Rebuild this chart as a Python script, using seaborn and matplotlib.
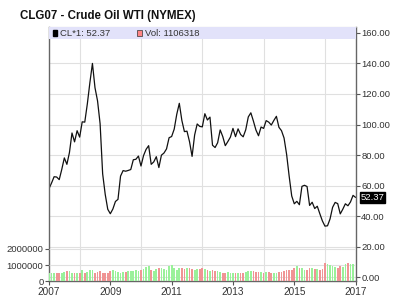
import matplotlib
matplotlib.use("Agg")
import matplotlib.pyplot as plt
import seaborn as sns
import numpy as np
import pandas as pd

# Monthly closes (Jan 2007 .. Dec 2016) plus latest value
price = [58.1, 61.8, 65.9, 65.7, 64.0, 70.7, 78.2, 74.0, 81.7, 94.5, 88.7, 96.0,
         91.8, 101.8, 101.6, 113.5, 127.4, 140.0, 124.1, 115.5, 100.6, 67.8, 54.4, 44.6,
         41.7, 44.8, 49.7, 51.1, 66.3, 69.9, 69.5, 70.0, 70.6, 77.0, 77.3, 79.4,
         72.9, 79.7, 83.8, 86.2, 74.0, 75.6, 79.0, 71.9, 80.0, 81.4, 84.1, 91.4,
         92.2, 97.0, 106.7, 113.9, 102.7, 95.4, 95.7, 88.8, 79.2, 93.2, 100.4, 98.8,
         98.5, 107.1, 103.0, 104.9, 86.5, 85.0, 88.1, 96.5, 92.2, 86.2, 88.9, 91.8,
         97.5, 92.1, 97.2, 93.5, 92.0, 96.6, 105.0, 107.7, 102.3, 96.4, 92.7, 98.4,
         97.5, 102.6, 101.6, 99.7, 102.7, 105.4, 98.2, 96.0, 91.2, 80.5, 66.2, 53.3,
         48.2, 49.8, 47.6, 59.6, 60.3, 59.5, 47.1, 49.2, 45.1, 46.6, 41.7, 37.0,
         33.6, 33.8, 38.3, 45.9, 49.1, 48.3, 41.6, 44.7, 48.2, 46.9, 49.4, 53.7,
         52.37]

# Monthly volume (millions of contracts), Jan 2007 .. Dec 2016
volume_m = [0.52, 0.50, 0.55, 0.50, 0.52, 0.55, 0.60, 0.62, 0.62, 0.50, 0.55, 0.55,
            0.55, 0.72, 0.55, 0.60, 0.72, 0.68, 0.55, 0.58, 0.65, 0.55, 0.50, 0.52,
            0.62, 0.68, 0.62, 0.58, 0.55, 0.58, 0.60, 0.62, 0.66, 0.66, 0.68, 0.65,
            0.70, 0.78, 0.90, 0.95, 0.72, 0.65, 0.75, 0.85, 0.80, 0.75, 0.70, 0.95,
            1.00, 0.85, 0.70, 0.80, 0.80, 0.75, 0.85, 0.80, 0.75, 0.72, 0.75, 0.78,
            0.80, 0.75, 0.70, 0.65, 0.70, 0.65, 0.62, 0.60, 0.55, 0.55, 0.60, 0.55,
            0.55, 0.55, 0.55, 0.55, 0.50, 0.60, 0.62, 0.62, 0.65, 0.60, 0.58, 0.60,
            0.55, 0.60, 0.58, 0.55, 0.55, 0.55, 0.58, 0.60, 0.62, 0.68, 0.70, 0.72,
            0.80, 0.95, 0.85, 0.80, 0.72, 0.70, 0.85, 0.80, 0.75, 0.75, 0.72, 0.78,
            1.15, 1.05, 1.00, 0.95, 0.90, 0.85, 0.95, 0.90, 1.05, 1.15, 1.05, 1.10]

title = "CLG07 - Crude Oil WTI (NYMEX)"
last_price_label = "52.37"
last_volume_label = "1106318"
year_ticks = [2007, 2009, 2011, 2013, 2015, 2017]
price_ticks = [0, 20, 40, 60, 80, 100, 120, 140, 160]
volume_ticks = [0, 1000000, 2000000]

sns.set_style("white")
plt.rcParams['font.family'] = ['Liberation Sans', 'DejaVu Sans']

t_price = 2007 + np.arange(len(price)) / 12.0
t_vol = 2007 + np.arange(len(volume_m)) / 12.0
vol = np.array(volume_m) * 1e6
p = np.array(price)
direction = ["up" if (i == 0 or p[i] >= p[i - 1]) else "down" for i in range(len(vol))]

df_p = pd.DataFrame({"t": t_price, "price": p})
df_v = pd.DataFrame({"t": t_vol, "vol": vol, "dir": direction})

fig = plt.figure(figsize=(4.0, 3.02), dpi=100)
ax = fig.add_axes([0.1225, 0.068, 0.7665, 0.841])
axv = ax.twinx()

grid_c = "#e0e0e0"
tick_c = "#333333"

# price line
sns.lineplot(data=df_p, x="t", y="price", ax=ax, color="#111111", linewidth=0.9)
ax.set_xlim(2007, 2017)
ax.set_ylim(-2.6, 163.5)
ax.set_yticks(price_ticks)
ax.set_yticklabels([f"{v:.2f}" for v in price_ticks])
ax.set_xticks(year_ticks)
ax.set_xticklabels([str(y) for y in year_ticks])
ax.set_xticks(list(range(2007, 2018)), minor=True)
ax.grid(True, which="minor", axis="x", color=grid_c, linewidth=0.8)
ax.grid(True, which="major", axis="y", color=grid_c, linewidth=0.8)
ax.set_xlabel("")
ax.set_ylabel("")
ax.yaxis.set_ticks_position("right")
ax.yaxis.set_label_position("right")
ax.tick_params(axis="y", which="major", right=True, left=False, labelright=True,
               labelleft=False, length=3, width=0.8,
               color="#555555", labelsize=6.8, labelcolor=tick_c, pad=1)
ax.tick_params(axis="x", which="major", bottom=True, length=3, width=0.8,
               color="#555555", labelsize=7.2, labelcolor=tick_c, pad=1)
ax.tick_params(axis="x", which="minor", bottom=False)
for s in ["left", "right", "bottom"]:
    ax.spines[s].set_color("#666666")
    ax.spines[s].set_linewidth(1.0)
ax.spines["top"].set_color("#aaaaaa")

# volume bars
sns.barplot(data=df_v, x="t", y="vol", hue="dir", native_scale=True, dodge=False,
            palette={"up": "#8cff8c", "down": "#ff8585"}, width=0.68,
            ax=axv, legend=False, linewidth=0)
axv.set_xlim(2007, 2017)
axv.set_ylim(0, 15.6e6)
axv.set_yticks(volume_ticks)
axv.set_yticklabels(["0", "1000000", "2000000"])
axv.set_ylabel("")
axv.set_xlabel("")
axv.yaxis.set_ticks_position("left")
axv.tick_params(axis="y", left=True, right=False, labelleft=True, labelright=False,
                length=3, width=0.8,
                color="#555555", labelsize=6.8, labelcolor=tick_c, pad=1)
for y in [1e6, 2e6]:
    axv.axhline(y, color=grid_c, linewidth=0.8, zorder=0)
for s in axv.spines.values():
    s.set_visible(False)

# legend band
band_h = 0.045
axv.add_patch(plt.Rectangle((0, 1 - band_h), 1, band_h, transform=axv.transAxes,
                            facecolor="#e2e2fa", edgecolor="none", zorder=5))
axv.add_patch(plt.Rectangle((0.012, 1 - band_h + 0.01), 0.015, 0.027, transform=axv.transAxes,
                            facecolor="black", edgecolor="black", zorder=6))
axv.text(0.036, 1 - band_h / 2, f"CL*1: {last_price_label}", transform=axv.transAxes,
         fontsize=6.8, color="#333333", va="center", ha="left", zorder=6)
axv.add_patch(plt.Rectangle((0.288, 1 - band_h + 0.01), 0.015, 0.027, transform=axv.transAxes,
                            facecolor="#ff8585", edgecolor="#333333", linewidth=0.5, zorder=6))
axv.text(0.313, 1 - band_h / 2, f"Vol: {last_volume_label}", transform=axv.transAxes,
         fontsize=6.8, color="#333333", va="center", ha="left", zorder=6)

# last price marker label
ax.annotate(last_price_label, xy=(1.0, p[-1]), xycoords=("axes fraction", "data"),
            xytext=(3.5, 0), textcoords="offset points", fontsize=6.8, color="white",
            va="center", ha="left",
            bbox=dict(boxstyle="square,pad=0.1", facecolor="black", edgecolor="black"),
            annotation_clip=False, zorder=10)

fig.text(0.05, 0.947, title, fontsize=8.3, fontweight="bold", color="#111111",
         va="center", ha="left")

fig.savefig("out.png", dpi=100)
